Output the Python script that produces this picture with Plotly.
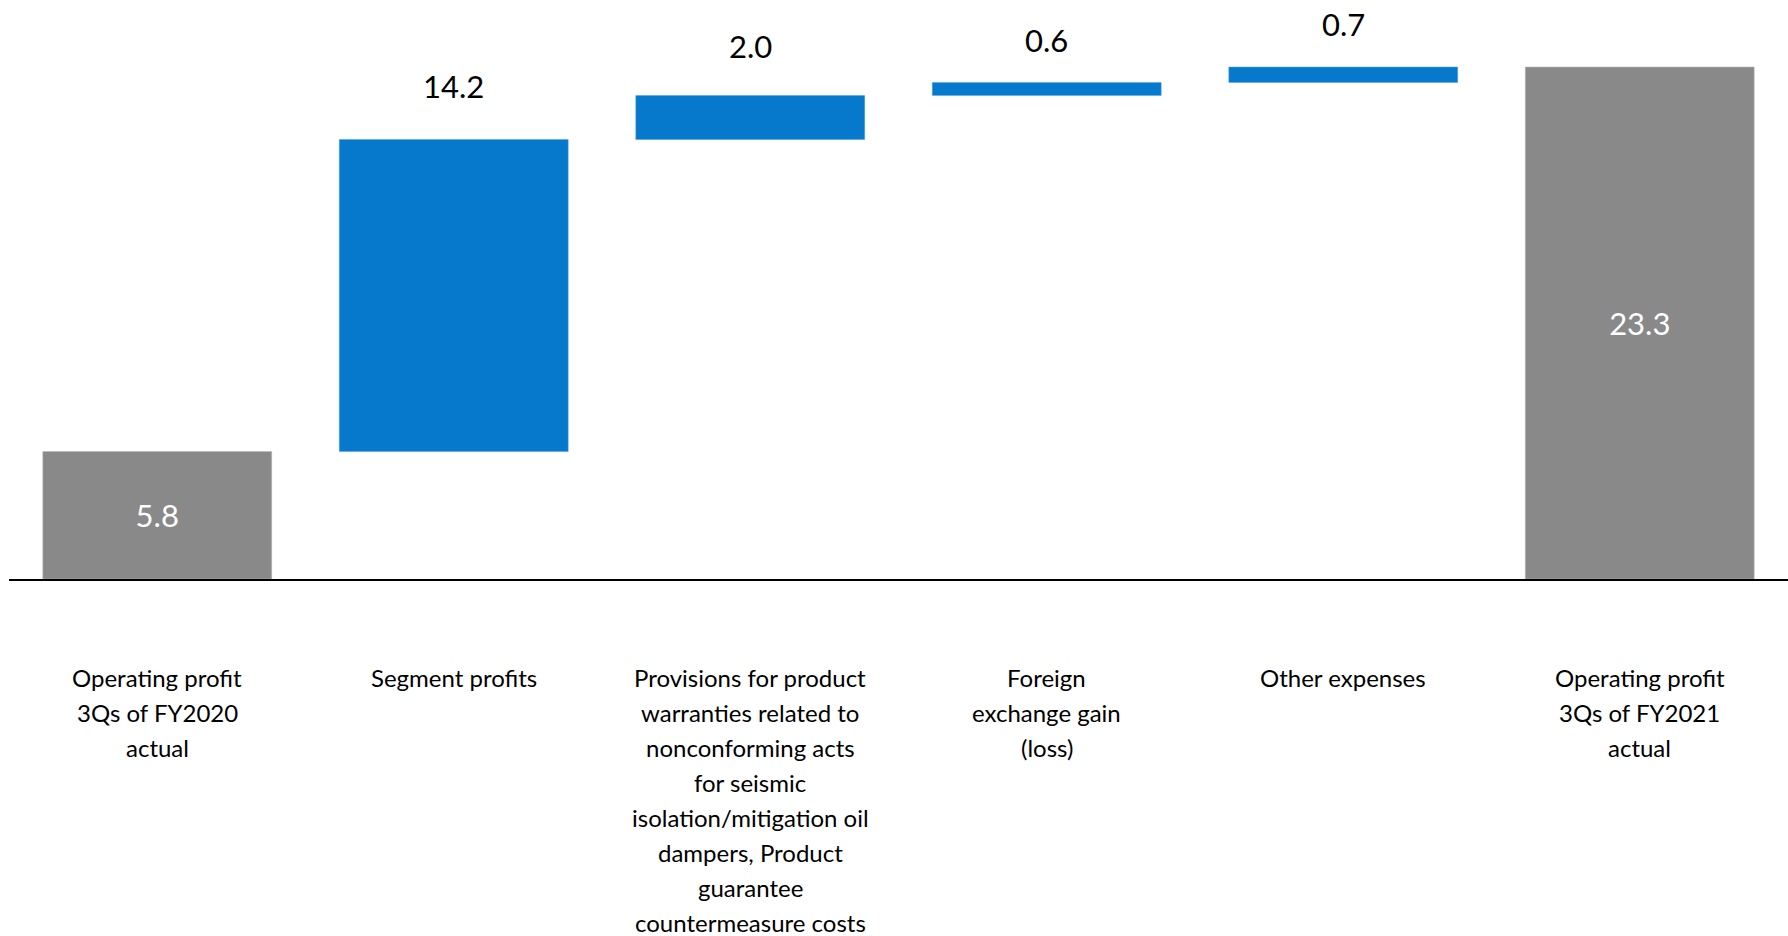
import plotly.graph_objects as go
import numpy as np

categories = [
    "Operating profit<br>3Qs of FY2020<br>actual",
    "Segment profits",
    "Provisions for product<br>warranties related to<br>nonconforming acts<br>for seismic<br>isolation/mitigation oil<br>dampers, Product<br>guarantee<br>countermeasure costs",
    "Foreign<br>exchange gain<br>(loss)",
    "Other expenses",
    "Operating profit<br>3Qs of FY2021<br>actual",
]
values = [5.8, 14.2, 2.0, 0.6, 0.7, 23.3]
measures = ["absolute", "relative", "relative", "relative", "relative", "total"]
value_labels = ["5.8", "14.2", "2.0", "0.6", "0.7", "23.3"]

BLUE = "#0779CC"
GRAY = "#898989"
FONT = "Lato, 'Open Sans', sans-serif"

W, H = 1788, 936
base_px = 579
ymax = 26.35

x_idx = list(range(len(categories)))

inside_text = [t if m != "relative" else "" for t, m in zip(value_labels, measures)]

fig = go.Figure()
fig.add_trace(go.Waterfall(
    x=x_idx,
    y=values,
    measure=measures,
    base=0,
    text=inside_text,
    textposition="inside",
    insidetextanchor="middle",
    textfont=dict(family=FONT, size=31, color="white"),
    increasing=dict(marker=dict(color=BLUE, line=dict(color="#4EA3E0", width=0.5))),
    decreasing=dict(marker=dict(color=BLUE)),
    totals=dict(marker=dict(color=GRAY, line=dict(color="#B5B5B5", width=0.5))),
    connector=dict(visible=False),
    hoverinfo="skip",
    showlegend=False,
))

# labels above the increment bars
cum = np.cumsum([v if m != "total" else 0 for v, m in zip(values, measures)])
label_shift = [0, 54, 50, 42, 43, 0]
annotations = []
for i, m in enumerate(measures):
    if m == "relative":
        annotations.append(dict(
            x=i, y=cum[i], xref="x", yref="y",
            text=value_labels[i], showarrow=False,
            yanchor="middle", yshift=label_shift[i],
            font=dict(family=FONT, size=31, color="black"),
        ))

# category labels below the axis, one annotation per line
line_h = 35.0
first_line = 677
for i, cat in enumerate(categories):
    for j, line in enumerate(cat.split("<br>")):
        ypix = first_line + j * line_h
        annotations.append(dict(
            x=i, y=0, xref="x", yref="paper",
            text=line, showarrow=False,
            yanchor="middle", yshift=-(ypix - base_px),
            font=dict(family=FONT, size=24, color="black"),
        ))

fig.update_layout(
    width=W, height=H,
    margin=dict(l=9, r=0, t=0, b=H - base_px, pad=0),
    paper_bgcolor="white", plot_bgcolor="white",
    waterfallgap=0.228,
    xaxis=dict(
        range=[-0.5, len(categories) - 0.5],
        showticklabels=False, showgrid=False, zeroline=False,
        showline=True, linecolor="black", linewidth=2,
        ticks="", fixedrange=True,
    ),
    yaxis=dict(
        range=[0, ymax], visible=False, showgrid=False, zeroline=False,
        fixedrange=True,
    ),
    annotations=annotations,
    font=dict(family=FONT),
)

fig.write_html("out.html", config={"displayModeBar": False})
